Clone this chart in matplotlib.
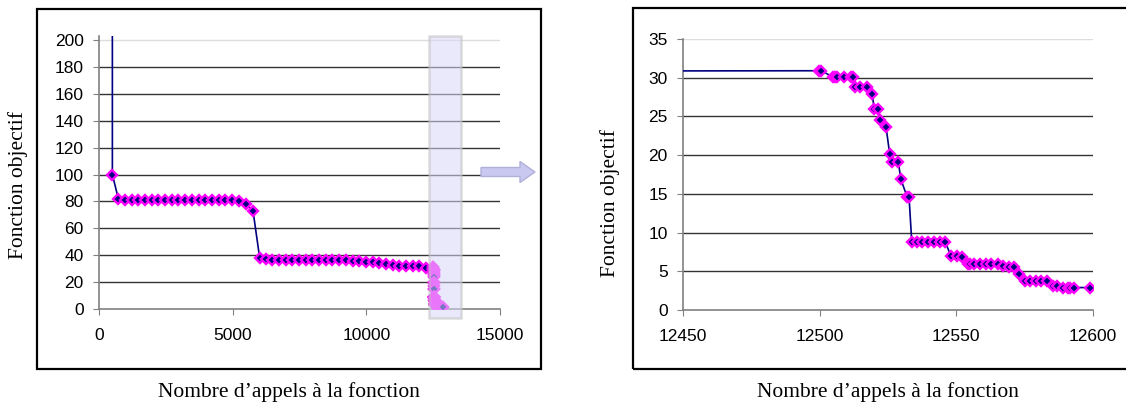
import matplotlib
matplotlib.use("Agg")
import matplotlib.pyplot as plt
import matplotlib.patches as patches

# function calls and objective values (one series, shown whole on the left, zoomed on the right)
calls = [499, 500, 723, 973, 1222, 1472, 1722, 1972, 2222, 2472, 2722, 2972, 3222,
         3472, 3722, 3972, 4222, 4472, 4722, 4988, 5237, 5486, 5761, 6010, 6234,
         6484, 6734, 6984, 7234, 7484, 7734, 7984, 8234, 8484, 8734, 8984, 9234,
         9484, 9734, 9984, 10234, 10484, 10734, 10984, 11234, 11484, 11734, 11984, 12250,
         12499.6, 12500.6, 12504.8, 12505.6, 12506.5, 12508.9, 12511.6, 12512.1,
         12512.9, 12514.9, 12517.3, 12519.2, 12520.0, 12521.2, 12522.2, 12524.3,
         12525.6, 12526.5, 12528.8, 12529.7, 12532.0, 12532.7,
         12533.7, 12535.7, 12537.6, 12539.6, 12541.9, 12544.0, 12546.0,
         12548.0, 12550.1, 12552.2,
         12554.2, 12555.0, 12556.6, 12558.6, 12560.8, 12562.8, 12565.1,
         12567.0, 12569.1, 12571.1, 12573.1,
         12575.1, 12577.1, 12579.1, 12581.1, 12583.3, 12585.3, 12587.0,
         12589.0, 12591.0, 12591.5, 12592.9, 12599.0,
         12650, 12710, 12770, 12820, 12870]
objective = [1000, 100, 82, 81, 81, 81, 81, 81, 81, 81, 81, 81, 81,
             81, 81, 81, 81, 81, 81, 81, 80, 78, 73, 38, 37.4,
             36.4, 36.4, 36.4, 36.4, 36.4, 36.4, 36.4, 36.4, 36.4, 36.4, 36.4, 36.2,
             36, 36, 35, 35, 34.2, 33.5, 33, 32, 32, 32, 32, 30.8,
             30.9, 30.9, 30.1, 30.1, 30.1, 30.1, 30.1, 30.1,
             28.75, 28.75, 28.75, 27.85, 25.9, 25.9, 24.6, 23.6,
             20.2, 19.07, 19.07, 16.9, 14.6, 14.6,
             8.74, 8.74, 8.74, 8.74, 8.74, 8.74, 8.74,
             7.0, 7.0, 6.9,
             6.0, 6.0, 6.0, 6.0, 6.0, 6.0, 6.0,
             5.7, 5.6, 5.6, 4.6,
             3.8, 3.8, 3.8, 3.7, 3.7, 3.1, 3.1,
             2.9, 2.9, 2.9, 2.9, 2.9,
             2.6, 2.3, 2.0, 1.8, 1.7]

left_xticks = [0, 5000, 10000, 15000]
left_yticks = [0, 20, 40, 60, 80, 100, 120, 140, 160, 180, 200]
right_xticks = [12450, 12500, 12550, 12600]
right_yticks = [0, 5, 10, 15, 20, 25, 30, 35]

xlabel = "Nombre d\u2019appels à la fonction"
ylabel = "Fonction objectif"

W, H = 1126, 405
fig = plt.figure(figsize=(W / 100, H / 100), dpi=100)

def fx(px):
    return px / W

def fy(py):
    return 1 - py / H

tick_font = dict(family="Liberation Sans", size=12.5)
label_font = dict(family="Liberation Serif", size=15.5)


def style_axes(ax, xticks, yticks, ylim_top):
    for side in ["top", "right"]:
        ax.spines[side].set_visible(False)
    for side in ["left", "bottom"]:
        ax.spines[side].set_color("#808080")
        ax.spines[side].set_linewidth(1.2)
    ax.set_xticks(xticks)
    ax.set_yticks(yticks)
    ax.set_xticklabels([str(t) for t in xticks], **tick_font)
    ax.set_yticklabels([str(t) for t in yticks], **tick_font)
    ax.tick_params(axis="x", direction="out", length=4, pad=10, color="#808080")
    ax.tick_params(axis="y", direction="out", length=4, pad=7, color="#808080")
    for t in yticks[1:-1]:
        ax.axhline(t, color="#333333", lw=1.0, zorder=1)
    ax.axhline(yticks[-1], color="#dddddd", lw=1.0, zorder=1)
    ax.set_ylim(0, ylim_top)


def draw_series(ax):
    ax.plot(calls, objective, color="#000080", lw=1.2, zorder=3,
            marker="D", markersize=5.5, markerfacecolor="#000080",
            markeredgecolor="#ff00ff", markeredgewidth=1.7)


# left chart
axl = fig.add_axes([fx(99), fy(309), fx(500 - 99), (309 - 36) / H])
draw_series(axl)
axl.set_xlim(0, 15000)
style_axes(axl, left_xticks, left_yticks, 203)

# highlight box over the zoomed part
axl.add_patch(patches.Rectangle((12350, -6.7), 13545 - 12350, 203 + 6.7,
                                facecolor="#d8d8f8", alpha=0.55, edgecolor="#c0c0c0",
                                lw=1.8, zorder=5, clip_on=False))

# right chart
axr = fig.add_axes([fx(683), fy(310), fx(1093 - 683), (310 - 39) / H])
draw_series(axr)
axr.set_xlim(12450, 12600)
style_axes(axr, right_xticks, right_yticks, 35)

# frames
fig.add_artist(patches.Rectangle((fx(37), fy(369)), fx(541 - 37), (369 - 9) / H,
                                 transform=fig.transFigure, fill=False,
                                 edgecolor="black", lw=1.6))
fig.add_artist(patches.Rectangle((fx(633), fy(369)), fx(1140 - 633), (369 - 7.5) / H,
                                 transform=fig.transFigure, fill=False,
                                 edgecolor="black", lw=1.6))

# arrow
fig.add_artist(patches.FancyArrow(fx(481), fy(172), fx(54), 0,
                                  width=9 / H, head_width=21 / H, head_length=fx(15),
                                  length_includes_head=True, transform=fig.transFigure,
                                  facecolor="#c8c8f0", edgecolor="#b0b0d8", lw=1))

# axis labels
fig.text(fx(289), fy(392), xlabel, ha="center", va="center", **label_font)
fig.text(fx(888), fy(392), xlabel, ha="center", va="center", **label_font)
fig.text(fx(18), fy(185), ylabel, ha="center", va="center", rotation=90, **label_font)
fig.text(fx(610), fy(203), ylabel, ha="center", va="center", rotation=90, **label_font)

fig.savefig("out.png", dpi=100)
